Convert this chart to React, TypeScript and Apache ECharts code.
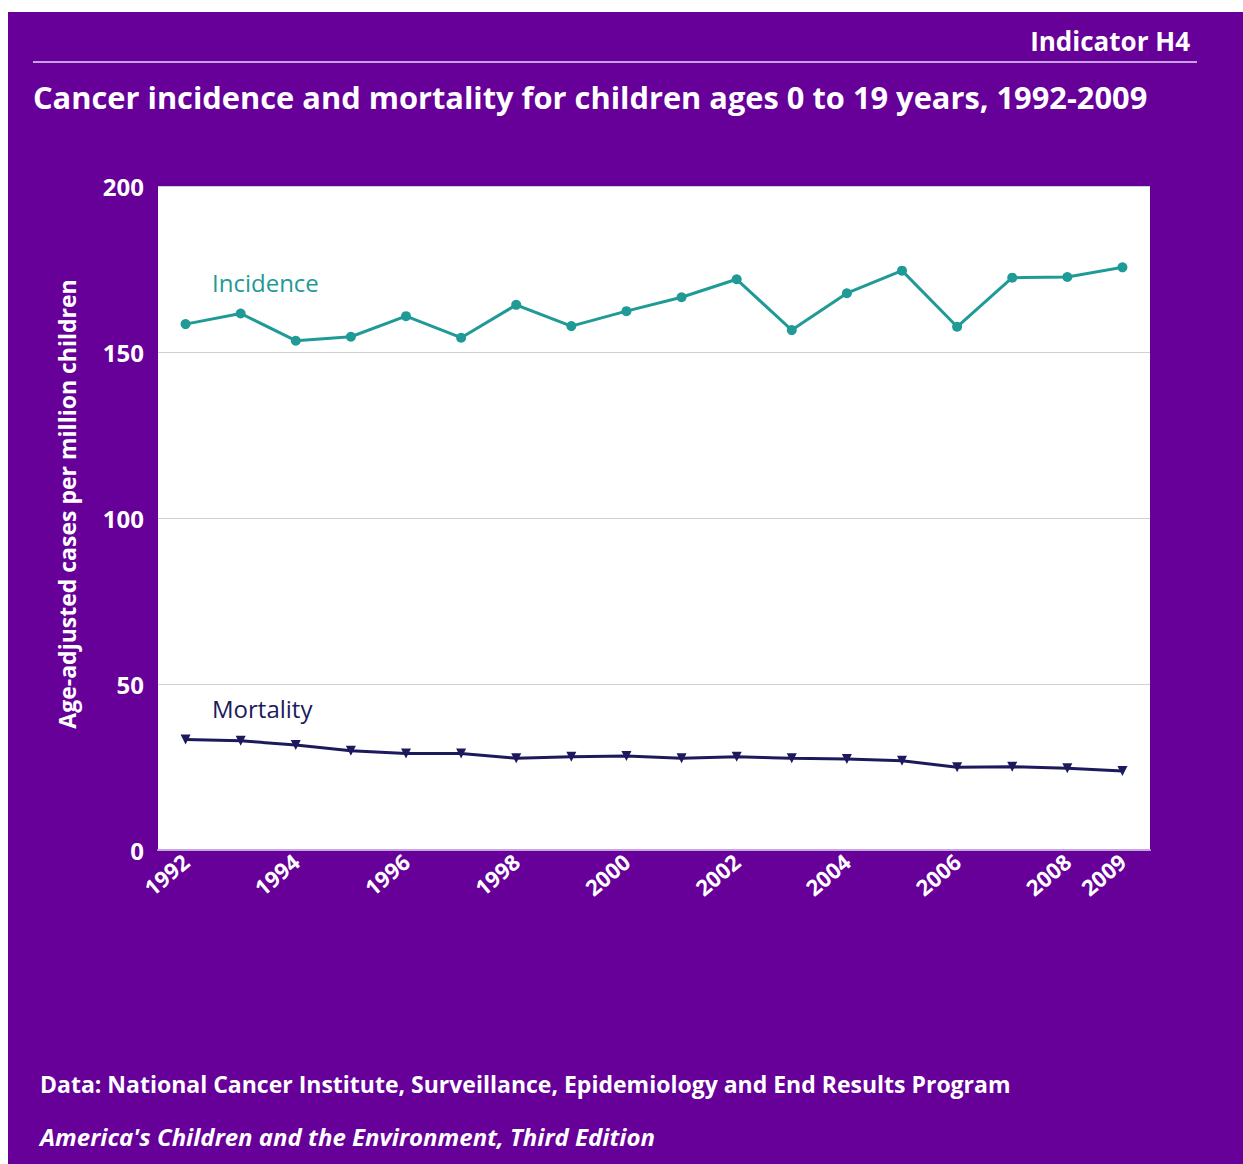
import React, { useEffect, useRef } from "react";
import * as echarts from "echarts";

const years = ["1992","1993","1994","1995","1996","1997","1998","1999","2000","2001","2002","2003","2004","2005","2006","2007","2008","2009"];
const incidence = [158.4,161.6,153.4,154.6,160.8,154.3,164.2,157.8,162.3,166.5,171.9,156.6,167.7,174.5,157.6,172.4,172.6,175.5];
const mortality = [33.3,32.9,31.6,29.9,29.1,29.1,27.6,28.1,28.3,27.6,28.1,27.6,27.4,26.9,24.9,25.1,24.6,23.8];
const yTicks = [0, 50, 100, 150, 200];

const PURPLE = "#660099";
const TEAL = "#1f9a96";
const NAVY = "#1c1a5c";
const FONT = "'Open Sans', 'Noto Sans', sans-serif";

export default function App() {
  const ref = useRef<HTMLDivElement>(null);
  useEffect(() => {
    if (!ref.current) return;
    const chart = echarts.init(ref.current, null, { renderer: "svg" });
    chart.setOption({
      animation: false,
      backgroundColor: PURPLE,
      textStyle: { fontFamily: FONT },
      grid: {
        left: 150, top: 174, right: 93, bottom: 314,
        show: true, backgroundColor: "#ffffff", borderWidth: 0,
      },
      xAxis: {
        type: "category",
        data: years,
        boundaryGap: true,
        axisLine: { show: true, lineStyle: { color: "#c8a6e0", width: 2 } },
        axisTick: { show: false },
        axisLabel: {
          color: "#ffffff", fontWeight: "bold", fontSize: 22, fontFamily: FONT,
          rotate: 40, margin: 8,
          interval: (i: number) => i % 2 === 0 || i === years.length - 1,
        },
      },
      yAxis: {
        type: "value",
        min: yTicks[0], max: yTicks[yTicks.length - 1], interval: 50,
        axisLine: { show: false },
        axisTick: { show: false },
        axisLabel: { color: "#ffffff", fontWeight: "bold", fontSize: 24, fontFamily: FONT, margin: 14 },
        splitLine: { show: true, lineStyle: { color: "#d0d0d0", width: 1 } },
      },
      series: [
        {
          name: "Incidence", type: "line", data: incidence,
          symbol: "circle", symbolSize: 10,
          lineStyle: { color: TEAL, width: 3 },
          itemStyle: { color: TEAL },
        },
        {
          name: "Mortality", type: "line", data: mortality,
          symbol: "triangle", symbolSize: 10, symbolRotate: 180,
          lineStyle: { color: NAVY, width: 3 },
          itemStyle: { color: NAVY },
        },
      ],
      graphic: [
        { type: "text", x: 1182, y: 29, style: { text: "Indicator H4", fill: "#fff", font: `bold 26px ${FONT}`, textAlign: "right", textVerticalAlign: "middle" } },
        { type: "line", shape: { x1: 25, y1: 50, x2: 1189, y2: 50 }, style: { stroke: "#c9a0e6", lineWidth: 2 } },
        { type: "text", x: 25, y: 85, style: { text: "Cancer incidence and mortality for children ages 0 to 19 years, 1992-2009", fill: "#fff", font: `bold 30.8px ${FONT}`, textVerticalAlign: "middle" } },
        { type: "text", x: 59, y: 492, rotation: Math.PI / 2, style: { text: "Age-adjusted cases per million children", fill: "#fff", font: `bold 23px ${FONT}`, textAlign: "center", textVerticalAlign: "middle" } },
        { type: "text", x: 204, y: 270, style: { text: "Incidence", fill: TEAL, font: `24px ${FONT}`, textVerticalAlign: "middle" } },
        { type: "text", x: 204, y: 696, style: { text: "Mortality", fill: NAVY, font: `24px ${FONT}`, textVerticalAlign: "middle" } },
        { type: "text", x: 32, y: 1072, style: { text: "Data: National Cancer Institute, Surveillance, Epidemiology and End Results Program", fill: "#fff", font: `bold 23px ${FONT}`, textVerticalAlign: "middle" } },
        { type: "text", x: 32, y: 1124, style: { text: "America's Children and the Environment, Third Edition", fill: "#fff", font: `italic bold 24px ${FONT}`, textVerticalAlign: "middle" } },
      ],
    });
    return () => chart.dispose();
  }, []);
  return <div ref={ref} style={{ position: "fixed", left: 8, top: 12, width: 1235, height: 1152 }} />;
}
